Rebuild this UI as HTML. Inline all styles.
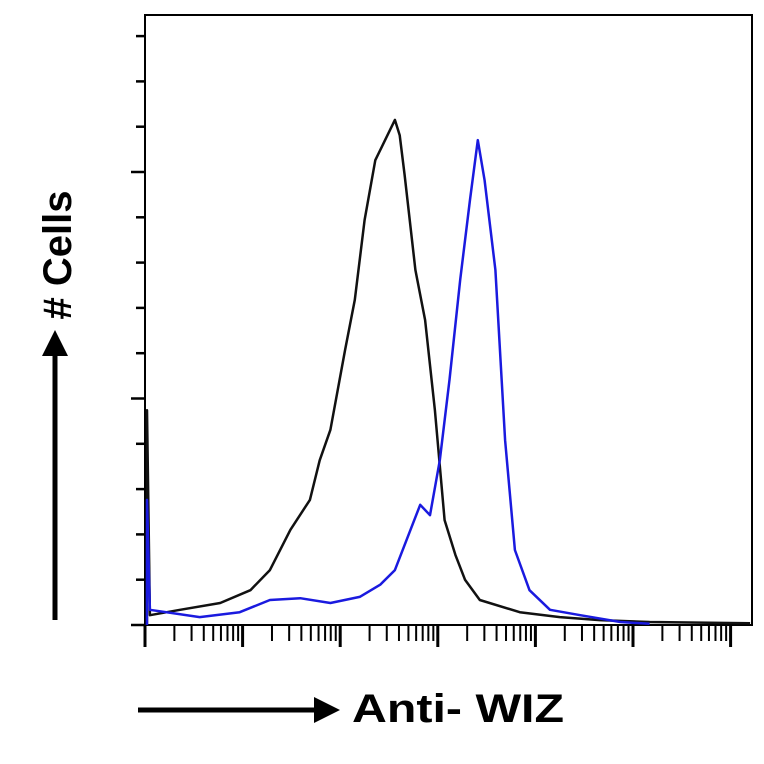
<!DOCTYPE html>
<html><head><meta charset="utf-8"><style>body{margin:0;background:#fff}svg{display:block}</style></head>
<body>
<svg id="chart" width="764" height="764" xmlns="http://www.w3.org/2000/svg" font-family="Liberation Sans, sans-serif">
<g id="axes"></g>
<g id="series"></g>
<text transform="translate(71,255) rotate(-90)" text-anchor="middle" font-size="40" font-weight="bold">#  Cells</text>
<line x1="55" y1="620" x2="55" y2="352" stroke="#000" stroke-width="5"/>
<polygon points="42,356 55,330 68,356" fill="#000"/>
<line x1="138" y1="710" x2="318" y2="710" stroke="#000" stroke-width="5"/>
<polygon points="314,697 340,710 314,723" fill="#000"/>
<text x="352" y="722" font-size="40" font-weight="bold" textLength="212" lengthAdjust="spacingAndGlyphs">Anti- WIZ</text>
</svg>
<script>
const blackX=[0.02,0.05,0.36,0.77,1.08,1.28,1.49,1.69,1.79,1.90,2.05,2.15,2.25,2.36,2.46,2.56,2.61,2.66,2.77,2.87,2.97,3.07,3.18,3.28,3.43,3.84,4.25,4.66,5.17,6.20];
const blackY=[35.2,1.6,2.5,3.6,5.7,9.0,15.6,20.5,27.0,32.0,45.1,53.3,66.4,76.2,79.5,82.8,80.3,73.8,58.2,50.0,35.2,17.2,11.5,7.4,4.1,2.1,1.3,0.8,0.5,0.3];
const blueX=[0.02,0.05,0.56,0.97,1.28,1.59,1.90,2.20,2.41,2.56,2.72,2.82,2.92,3.02,3.12,3.23,3.33,3.41,3.48,3.59,3.69,3.79,3.94,4.15,4.46,4.87,5.17];
const blueY=[20.5,2.5,1.3,2.1,4.1,4.4,3.6,4.6,6.6,9.0,15.6,19.7,18.0,27.0,40.2,56.6,69.7,79.5,72.9,58.2,30.3,12.3,5.7,2.5,1.6,0.5,0.2];
const yTicks=[0,10,20,30,40,50,60,70,80,90,100,110,120,130];
const decades=[0,1,2,3,4,5,6];
const L=145,T=15,R=752,B=625;
const xs=d=>L+d*97.6;
const ys=v=>B-v*(B-T)/100;
const NS='http://www.w3.org/2000/svg';
const ax=document.getElementById('axes'),sg=document.getElementById('series');
function mk(tag,attrs,parent){const e=document.createElementNS(NS,tag);for(const k in attrs)e.setAttribute(k,attrs[k]);parent.appendChild(e);return e;}
const frame=mk('rect',{x:L,y:T,width:R-L,height:B-T,fill:'none',stroke:'#000','stroke-width':2},ax);


yTicks.forEach((t,i)=>{const y=B-t*45.3/10;const len=(i%5===0)?14:9;
const l=mk('line',{x1:L-len,x2:L,y1:y,y2:y,stroke:'#000','stroke-width':2.5},ax);

});
decades.forEach(d=>{for(let m=1;m<=9;m++){const dx=d+Math.log10(m);if(xs(dx)>R+1)continue;const maj=m===1;
const l=mk('line',{x1:xs(dx),x2:xs(dx),y1:B,y2:B+(maj?22:16),stroke:'#000','stroke-width':maj?3:2},ax);

}});
function path(X,Y,col,name){let d='M'+xs(X[0])+','+B+' L';d+=X.map((x,i)=>xs(x).toFixed(1)+','+ys(Y[i]).toFixed(1)).join(' L');
const p=mk('path',{d:d,fill:'none',stroke:col,'stroke-width':2.5,'stroke-linejoin':'round'},sg);

}
path(blackX,blackY,'#111','isotype-control-histogram');
path(blueX,blueY,'#1a1adf','anti-wiz-histogram');
</script>
</body></html>
